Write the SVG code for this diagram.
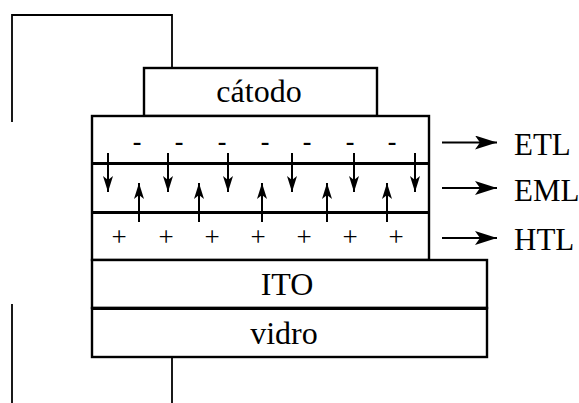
<svg xmlns="http://www.w3.org/2000/svg" width="579" height="403" viewBox="0 0 579 403">
<style>
.t{font-family:"Liberation Serif","Times New Roman",serif;font-size:32px;fill:#000}
.l{font-family:"Liberation Serif","Times New Roman",serif;font-size:31px;fill:#000}
.s{font-family:"Liberation Serif","Times New Roman",serif;font-size:27px;fill:#000}
.m{font-family:"Liberation Serif","Times New Roman",serif;font-size:26px;font-weight:bold;fill:#000}
.box{fill:#fff;stroke:#000;stroke-width:2.4}
.sep{stroke:#000;stroke-width:3.2}
.w{fill:none;stroke:#000;stroke-width:1.8}
.a{stroke:#000;stroke-width:2;fill:none}
</style>
<defs>
<marker id="ah" viewBox="0 0 16 10" refX="16" refY="5" markerWidth="16" markerHeight="10" markerUnits="userSpaceOnUse" orient="auto">
<path d="M0,0 L16,5 L0,10 L4,5 z" fill="#000"/>
</marker>
<marker id="ahr" viewBox="0 0 22 14" refX="22" refY="7" markerWidth="22" markerHeight="14" markerUnits="userSpaceOnUse" orient="auto">
<path d="M0,0 L22,7 L0,14 L5,7 z" fill="#000"/>
</marker>
</defs>
<g id="connectors">
<path class="w" d="M12,122 V15 H172 V68"/>
<path class="w" d="M12,304 V403"/>
<path class="w" d="M172,357 V403"/>
</g>
<g id="catodo">
<rect class="box" x="144" y="68" width="233" height="48"/>
<text class="t" x="259" y="102" text-anchor="middle">cátodo</text>
</g>
<g id="stack">
<rect class="box" x="92" y="116" width="337" height="144"/>
<line class="sep" x1="92" y1="163.5" x2="429" y2="163.5"/>
<line class="sep" x1="92" y1="212.5" x2="429" y2="212.5"/>
</g>
<g id="charges">
<g class="m" text-anchor="middle">
<text x="137" y="150">-</text><text x="179" y="150">-</text><text x="222" y="150">-</text><text x="265" y="150">-</text><text x="307" y="150">-</text><text x="350" y="150">-</text><text x="392" y="150">-</text>
</g>
<g class="s" text-anchor="middle">
<text x="119" y="246">+</text><text x="166" y="246">+</text><text x="212" y="246">+</text><text x="258" y="246">+</text><text x="304" y="246">+</text><text x="350" y="246">+</text><text x="396" y="246">+</text>
</g>
</g>
<g id="carrier-arrows">
<g class="a" marker-end="url(#ah)">
<line x1="108" y1="153" x2="108" y2="192"/>
<line x1="168" y1="153" x2="168" y2="192"/>
<line x1="228" y1="153" x2="228" y2="192"/>
<line x1="292" y1="153" x2="292" y2="192"/>
<line x1="354" y1="153" x2="354" y2="192"/>
<line x1="415" y1="153" x2="415" y2="192"/>
<line x1="139" y1="222" x2="139" y2="183"/>
<line x1="199" y1="222" x2="199" y2="183"/>
<line x1="262" y1="222" x2="262" y2="183"/>
<line x1="327" y1="222" x2="327" y2="183"/>
<line x1="387" y1="222" x2="387" y2="183"/>
</g>
</g>
<g id="ITO">
<rect class="box" x="92" y="260" width="395" height="48"/>
<text class="t" x="287" y="295" text-anchor="middle">ITO</text>
</g>
<g id="vidro">
<rect class="box" x="92" y="308" width="395" height="49"/>
<line class="sep" x1="92" y1="308.5" x2="487" y2="308.5"/>
<text class="t" x="284" y="344" text-anchor="middle">vidro</text>
</g>
<g id="labels">
<g class="a" marker-end="url(#ahr)">
<line x1="442" y1="142.5" x2="497" y2="142.5"/>
<line x1="442" y1="188" x2="497" y2="188"/>
<line x1="442" y1="238" x2="497" y2="238"/>
</g>
<text class="l" x="514" y="155">ETL</text>
<text class="l" x="514" y="201">EML</text>
<text class="l" x="514" y="250">HTL</text>
</g>
</svg>
